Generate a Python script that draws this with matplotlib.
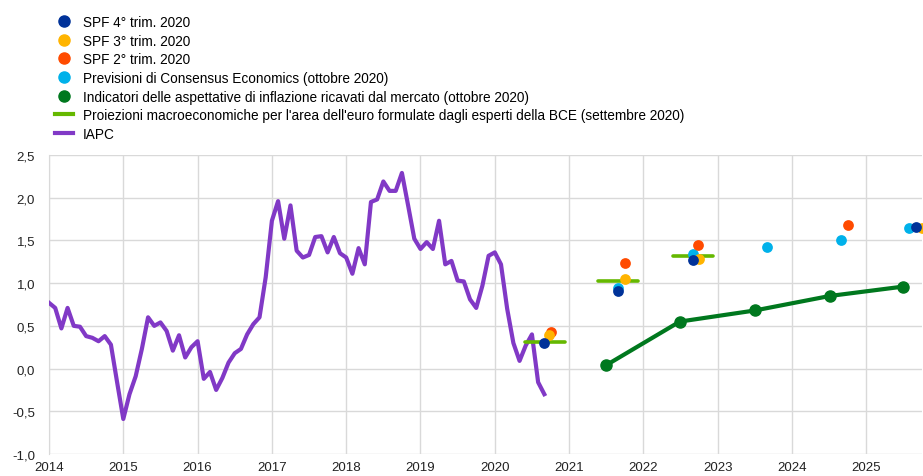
import numpy as np
import matplotlib.pyplot as plt
from matplotlib.lines import Line2D
from matplotlib.ticker import FuncFormatter

plt.rcParams['font.family'] = ['Liberation Sans', 'DejaVu Sans']

# HICP (IAPC), monthly, Jan 2014 - Sep 2020
hicp = [0.77, 0.71, 0.47, 0.71, 0.50, 0.49, 0.38, 0.36, 0.32, 0.38, 0.28, -0.16,
        -0.59, -0.30, -0.09, 0.23, 0.60, 0.50, 0.54, 0.44, 0.21, 0.39, 0.13, 0.25,
        0.32, -0.12, -0.04, -0.25, -0.11, 0.07, 0.18, 0.23, 0.40, 0.52, 0.60, 1.07,
        1.73, 1.96, 1.52, 1.91, 1.38, 1.30, 1.33, 1.54, 1.55, 1.36, 1.54, 1.35,
        1.30, 1.11, 1.41, 1.22, 1.95, 1.98, 2.19, 2.08, 2.08, 2.29, 1.91, 1.52,
        1.40, 1.48, 1.40, 1.73, 1.22, 1.26, 1.03, 1.02, 0.81, 0.71, 0.97, 1.32,
        1.36, 1.22, 0.70, 0.30, 0.09, 0.27, 0.40, -0.16, -0.30]
hicp_x = 2014 + np.arange(len(hicp)) / 12

# ECB staff projections (September 2020)
ecb_x = [2020.67, 2021.66, 2022.67]
ecb_y = [0.31, 1.02, 1.32]

# Market-based indicators (October 2020)
mkt_x = [2021.50, 2022.49, 2023.50, 2024.51, 2025.50]
mkt_y = [0.04, 0.55, 0.68, 0.85, 0.96]

# Consensus Economics (October 2020)
ce_x = [2021.66, 2022.67, 2023.66, 2024.66, 2025.57]
ce_y = [0.94, 1.34, 1.42, 1.51, 1.64]

# SPF rounds
spf2_x = [2020.75, 2021.75, 2022.74, 2024.75]
spf2_y = [0.43, 1.23, 1.45, 1.68]
spf3_x = [2020.73, 2021.75, 2022.75, 2025.75]
spf3_y = [0.39, 1.05, 1.28, 1.65]
spf4_x = [2020.66, 2021.66, 2022.67, 2025.67]
spf4_y = [0.30, 0.91, 1.27, 1.66]

years = list(range(2014, 2026))

c_spf4 = '#003299'
c_spf3 = '#FFB400'
c_spf2 = '#FF4B00'
c_ce = '#00B1EA'
c_mkt = '#00781E'
c_ecb = '#65B800'
c_hicp = '#8139C6'

fig = plt.figure(figsize=(9.23, 4.77), dpi=100)
ax = fig.add_axes([49 / 923, 1 - 455 / 477, 873 / 923, 299 / 477])

ax.plot(hicp_x, hicp, color=c_hicp, lw=3, zorder=3)
for x, y in zip(ecb_x, ecb_y):
    ax.plot([x - 0.27, x + 0.27], [y, y], color=c_ecb, lw=2.6,
            solid_capstyle='round', zorder=3)
ax.plot(mkt_x, mkt_y, color=c_mkt, lw=3, marker='o', ms=8, zorder=4)
ax.scatter(ce_x, ce_y, s=60, color=c_ce, zorder=5, linewidths=0)
ax.scatter(spf2_x, spf2_y, s=60, color=c_spf2, zorder=5, linewidths=0)
ax.scatter(spf3_x, spf3_y, s=60, color=c_spf3, zorder=6, linewidths=0)
ax.scatter(spf4_x, spf4_y, s=60, color=c_spf4, zorder=7, linewidths=0)

ax.set_xlim(2014, 2025.75)
ax.set_ylim(-1, 2.5)
ax.set_xticks(years)
ax.set_yticks(np.arange(-1, 2.51, 0.5))
ax.yaxis.set_major_formatter(FuncFormatter(lambda v, p: f'{v:.1f}'.replace('.', ',')))
ax.grid(True, color='#d9d9d9', lw=1)
ax.set_axisbelow(True)
for s in ['top', 'right', 'bottom']:
    ax.spines[s].set_visible(False)
ax.spines['left'].set_color('#d9d9d9')
ax.tick_params(length=0, labelsize=9.5, colors='#222222')
ax.tick_params(axis='x', pad=5)
ax.tick_params(axis='y', pad=10)

handles = [
    Line2D([], [], ls='none', marker='o', ms=8, color=c_spf4),
    Line2D([], [], ls='none', marker='o', ms=8, color=c_spf3),
    Line2D([], [], ls='none', marker='o', ms=8, color=c_spf2),
    Line2D([], [], ls='none', marker='o', ms=8, color=c_ce),
    Line2D([], [], ls='none', marker='o', ms=8, color=c_mkt),
    Line2D([], [], color=c_ecb, lw=3),
    Line2D([], [], color=c_hicp, lw=3),
]
labels = ['SPF 4° trim. 2020', 'SPF 3° trim. 2020', 'SPF 2° trim. 2020',
          'Previsioni di Consensus Economics (ottobre 2020)',
          'Indicatori delle aspettative di inflazione ricavati dal mercato (ottobre 2020)',
          "Proiezioni macroeconomiche per l'area dell'euro formulate dagli esperti della BCE (settembre 2020)",
          'IAPC']
fig.legend(handles, labels, loc='upper left', bbox_to_anchor=(55 / 923, 1 - 16 / 477),
           frameon=False, fontsize=9.8, handlelength=1.3, handletextpad=0.75,
           labelspacing=0.34, borderaxespad=0, borderpad=0)

fig.savefig('out.png', dpi=100)
